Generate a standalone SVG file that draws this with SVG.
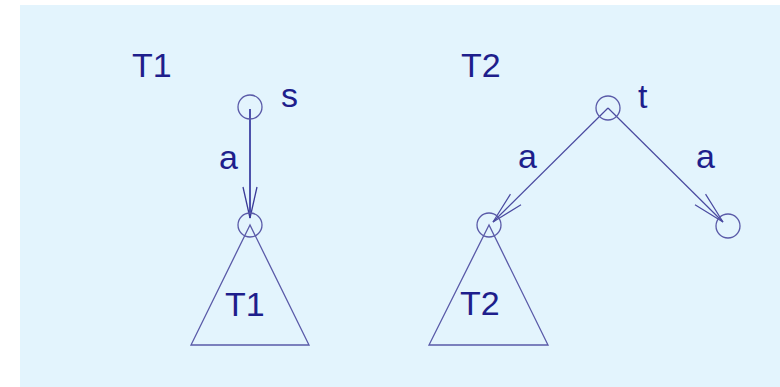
<svg xmlns="http://www.w3.org/2000/svg" width="780" height="387" viewBox="0 0 780 387">
<style>
  .lbl { font-family: "Liberation Sans", Arial, sans-serif; font-size: 34px; fill: #1e1e8c; }
  .node { fill: none; stroke: #5a5aa8; stroke-width: 1.3; }
  .tri { fill: none; stroke: #5a5aa8; stroke-width: 1.3; }
  .edge { fill: none; stroke: #4a4aa0; stroke-width: 1.2; }
  .edge-dark { fill: none; stroke: #1c1c90; stroke-width: 1.5; }
</style>
<defs>
  <marker id="arrowL" markerUnits="userSpaceOnUse" viewBox="-34 -9 36 18" refX="0" refY="0" markerWidth="36" markerHeight="18" orient="auto">
    <path d="M-32,-7.5 L0,0 L-32,7.5" fill="none" stroke="#4a4aa0" stroke-width="1.2"/>
  </marker>
  <marker id="arrowD" markerUnits="userSpaceOnUse" viewBox="-34 -9 36 18" refX="0" refY="0" markerWidth="36" markerHeight="18" orient="auto">
    <path d="M-31,-7 L0,0 L-31,7" fill="none" stroke="#3a3a98" stroke-width="1.3"/>
  </marker>
</defs>
<rect x="20" y="5" width="760" height="382" fill="#e3f4fd"/>

<g id="label-T1"><text class="lbl" x="132" y="77">T1</text></g>
<g id="label-T2"><text class="lbl" x="461" y="77">T2</text></g>

<g id="connectors">
  <line class="edge-dark" x1="250" y1="109" x2="250" y2="218" marker-end="url(#arrowD)"/>
  <line class="edge" x1="608" y1="108" x2="493" y2="222" marker-end="url(#arrowL)"/>
  <line class="edge" x1="608" y1="108" x2="723" y2="222" marker-end="url(#arrowL)"/>
  <text class="lbl" x="219" y="169">a</text>
  <text class="lbl" x="518" y="168">a</text>
  <text class="lbl" x="696" y="168">a</text>
</g>

<g id="node-s">
  <circle class="node" cx="250" cy="107" r="12"/>
  <text class="lbl" x="281" y="107">s</text>
</g>
<g id="node-T1root">
  <circle class="node" cx="250" cy="225" r="12"/>
</g>
<g id="subtree-T1">
  <polygon class="tri" points="250,225 191,345 309,345"/>
  <text class="lbl" x="225" y="316">T1</text>
</g>

<g id="node-t">
  <circle class="node" cx="608" cy="108" r="12"/>
  <text class="lbl" x="638" y="108">t</text>
</g>
<g id="node-T2root">
  <circle class="node" cx="489" cy="225" r="12"/>
</g>
<g id="subtree-T2">
  <polygon class="tri" points="489,225 429,345 548,345"/>
  <text class="lbl" x="460" y="315">T2</text>
</g>
<g id="node-right">
  <circle class="node" cx="728" cy="226" r="12"/>
</g>
</svg>
